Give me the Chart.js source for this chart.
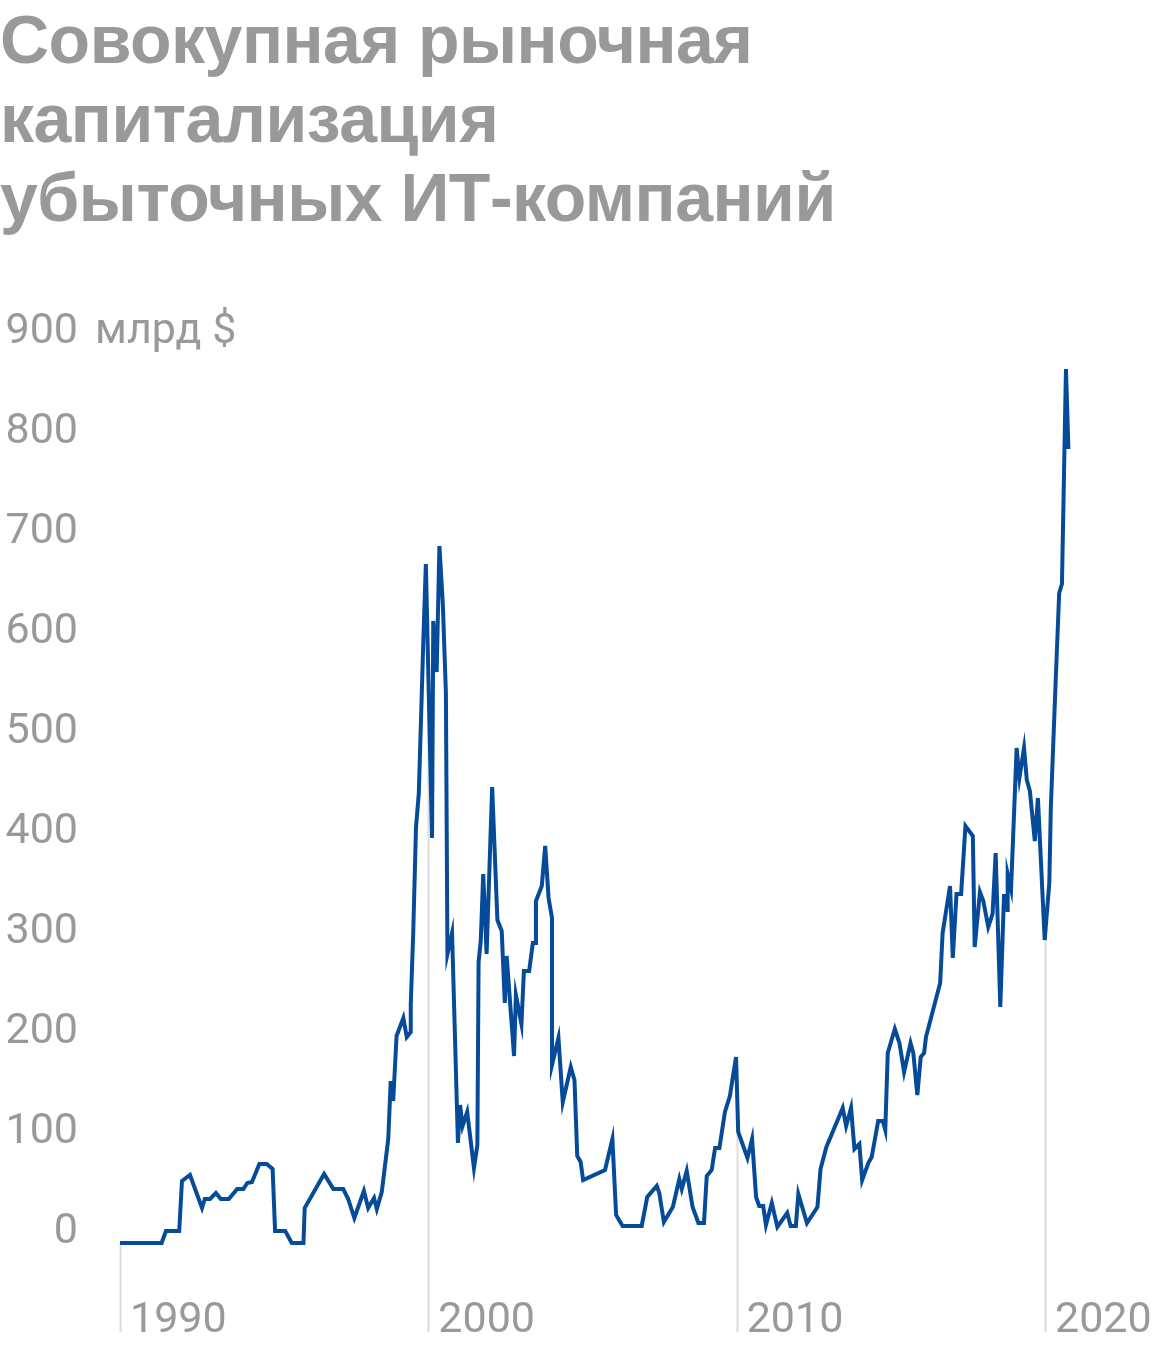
<!DOCTYPE html>
<html lang="ru">
<head>
<meta charset="utf-8">
<script src="https://cdn.jsdelivr.net/npm/chart.js@4/dist/chart.umd.min.js"></script>
<style>
  html, body { margin: 0; padding: 0; background: #fff; }
  .wrap { position: relative; width: 1160px; height: 1352px; }
  h1 {
    position: absolute; left: 0; top: 0; margin: 0;
    font: bold 68px/79px "Liberation Sans", Arial, sans-serif;
    color: #999; letter-spacing: -0.5px;
  }
  canvas { position: absolute; left: 0; top: 0; }
</style>
</head>
<body>
<div class="wrap">
  <canvas id="capChart" width="1160" height="1352"></canvas>
  <h1>Совокупная рыночная<br>капитализация<br>убыточных ИТ-компаний</h1>
</div>
<script>
// даты (доля года) и капитализация, млрд $
const years = [
  1990.00, 1991.35, 1991.49, 1991.92, 1992.01, 1992.27, 1992.66, 1992.75, 1992.92, 1993.11,
  1993.27, 1993.53, 1993.80, 1994.00, 1994.13, 1994.28, 1994.52, 1994.76, 1994.95, 1995.03,
  1995.36, 1995.57, 1995.95, 1995.99, 1996.62, 1996.92, 1997.24, 1997.40, 1997.60, 1997.91,
  1998.05, 1998.24, 1998.33, 1998.49, 1998.70, 1998.78, 1998.86, 1998.97, 1999.19, 1999.30,
  1999.43, 1999.43, 1999.51, 1999.60, 1999.69, 1999.76, 1999.84, 1999.92, 2000.12, 2000.16,
  2000.27, 2000.36, 2000.47, 2000.57, 2000.62, 2000.77, 2000.96, 2001.03, 2001.11, 2001.26,
  2001.48, 2001.59, 2001.63, 2001.70, 2001.78, 2001.89, 2002.07, 2002.24, 2002.38, 2002.48,
  2002.54, 2002.78, 2002.84, 2003.02, 2003.10, 2003.27, 2003.39, 2003.49, 2003.49, 2003.68,
  2003.79, 2003.90, 2004.01, 2004.01, 2004.22, 2004.36, 2004.62, 2004.74, 2004.83, 2004.94,
  2005.02, 2005.73, 2005.97, 2006.09, 2006.30, 2006.92, 2007.10, 2007.41, 2007.49, 2007.64,
  2007.93, 2008.14, 2008.22, 2008.38, 2008.57, 2008.76, 2008.94, 2009.03, 2009.19, 2009.30,
  2009.44, 2009.62, 2009.78, 2009.98, 2010.05, 2010.35, 2010.50, 2010.63, 2010.73, 2010.86,
  2010.95, 2011.14, 2011.32, 2011.64, 2011.75, 2011.92, 2012.00, 2012.28, 2012.62, 2012.72,
  2012.91, 2013.44, 2013.55, 2013.71, 2013.82, 2013.98, 2014.07, 2014.27, 2014.38, 2014.59,
  2014.74, 2014.82, 2014.90, 2015.13, 2015.28, 2015.43, 2015.64, 2015.73, 2015.86, 2015.97,
  2016.08, 2016.14, 2016.60, 2016.68, 2016.92, 2017.01, 2017.13, 2017.28, 2017.42, 2017.66,
  2017.72, 2017.89, 2018.00, 2018.16, 2018.30, 2018.40, 2018.55, 2018.67, 2018.77, 2018.78,
  2018.80, 2018.90, 2019.08, 2019.17, 2019.32, 2019.41, 2019.51, 2019.67, 2019.77, 2019.99,
  2020.14, 2020.19, 2020.33, 2020.46, 2020.55, 2020.68, 2020.76
];
const capitalization = [
  0, 0, 12, 12, 62, 68, 35, 44, 44, 50,
  44, 44, 54, 54, 60, 61, 79, 79, 74, 12,
  12, 0, 0, 35, 69, 54, 54, 44, 25, 52,
  35, 45, 34, 51, 104, 162, 142, 207, 225, 206,
  211, 239, 310, 416, 449, 521, 605, 679, 405, 622,
  571, 697, 639, 550, 289, 310, 100, 138, 117, 131,
  75, 98, 281, 302, 369, 289, 456, 323, 312, 240,
  287, 187, 248, 219, 272, 272, 300, 300, 342, 357,
  397, 345, 325, 178, 205, 141, 176, 163, 87, 81,
  63, 73, 104, 28, 17, 17, 46, 57, 50, 21,
  36, 64, 54, 72, 36, 20, 20, 67, 73, 95,
  95, 131, 147, 186, 111, 85, 104, 46, 37, 37,
  18, 40, 16, 30, 17, 17, 49, 20, 36, 74,
  96, 135, 117, 135, 94, 99, 63, 80, 86, 122,
  122, 113, 190, 214, 200, 171, 200, 190, 148, 186,
  190, 206, 260, 310, 357, 285, 349, 349, 417, 407,
  296, 351, 342, 316, 329, 390, 236, 347, 347, 331,
  369, 354, 495, 465, 495, 463, 452, 402, 445, 303,
  360, 436, 549, 650, 659, 874, 794
];
const yearTicks = [1990, 2000, 2010, 2020];
const valueTicks = [0, 100, 200, 300, 400, 500, 600, 700, 800, 900];
const unitLabel = 'млрд $';

const GRAY = '#999999';
const LABEL_FONT = '43px Roboto, "Liberation Sans", sans-serif';

// значение ряда в заданный момент (линейно между точками)
function valueAt(yr) {
  for (let i = 1; i < years.length; i++) {
    if (years[i] >= yr) {
      const t = (yr - years[i - 1]) / ((years[i] - years[i - 1]) || 1);
      return capitalization[i - 1] + t * (capitalization[i] - capitalization[i - 1]);
    }
  }
  return capitalization[capitalization.length - 1];
}

// вертикальные линии лет — от линии графика вниз
const yearLines = {
  id: 'yearLines',
  beforeDatasetsDraw(chart) {
    const { ctx, chartArea, scales: { x, y } } = chart;
    ctx.save();
    ctx.strokeStyle = '#dcdcdc';
    ctx.lineWidth = 2;
    yearTicks.forEach(yr => {
      const px = Math.round(x.getPixelForValue(yr)) + 0.5;
      ctx.beginPath();
      ctx.moveTo(px, y.getPixelForValue(valueAt(yr)));
      ctx.lineTo(px, chartArea.bottom);
      ctx.stroke();
    });
    ctx.restore();
  }
};

// подписи осей
const axisLabels = {
  id: 'axisLabels',
  afterDraw(chart) {
    const { ctx, chartArea, scales: { x, y } } = chart;
    ctx.save();
    ctx.font = LABEL_FONT;
    ctx.fillStyle = GRAY;
    ctx.textBaseline = 'alphabetic';

    const right = 78;
    valueTicks.forEach((v, i) => {
      const py = y.getPixelForValue(v);
      ctx.textAlign = 'right';
      ctx.fillText(String(v), right, py);
      if (i === valueTicks.length - 1) {
        ctx.textAlign = 'left';
        ctx.fillText(unitLabel, right + 17, py);
      }
    });

    ctx.textAlign = 'left';
    yearTicks.forEach(yr => {
      ctx.fillText(String(yr), x.getPixelForValue(yr) + 10, chartArea.bottom);
    });
    ctx.restore();
  }
};

new Chart(document.getElementById('capChart'), {
  type: 'line',
  data: {
    datasets: [{
      data: years.map((yr, i) => ({ x: yr, y: capitalization[i] })),
      borderColor: '#064b99',
      borderWidth: 4,
      pointRadius: 0,
      tension: 0,
      fill: false
    }]
  },
  options: {
    responsive: false,
    animation: false,
    layout: { padding: { left: 120, top: 343, right: 0, bottom: 20 } },
    plugins: { legend: { display: false }, tooltip: { enabled: false } },
    scales: {
      x: { type: 'linear', min: 1990, max: 2023.73, display: false },
      y: { min: -89, max: 900, display: false }
    }
  },
  plugins: [yearLines, axisLabels]
});
</script>
</body>
</html>
